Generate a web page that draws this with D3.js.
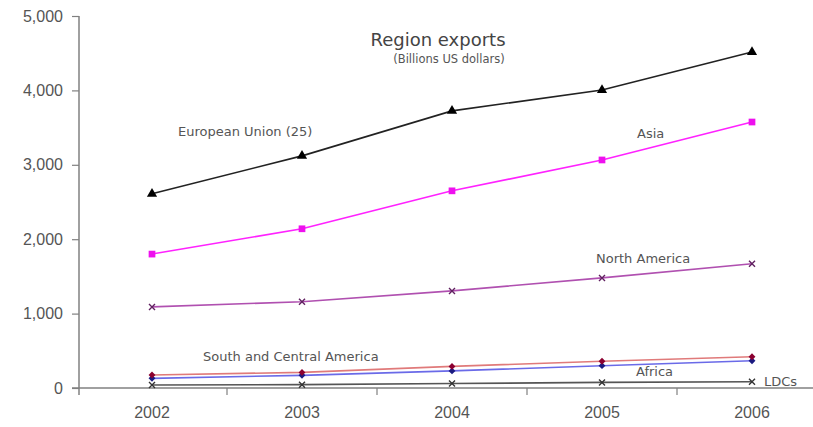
<!DOCTYPE html>
<html>
<head>
<meta charset="utf-8">
<script src="https://cdn.jsdelivr.net/npm/d3@7"></script>
<style>
  body { margin: 0; background: #fff; }
  svg { font-family: Arial, "Liberation Sans", sans-serif; }
  .lbl { font-family: "DejaVu Sans", Verdana, sans-serif; }
</style>
</head>
<body>
<svg id="chart" width="813" height="427"></svg>
<script>
const years = ['2002', '2003', '2004', '2005', '2006'];
const yTicks = [0, 1000, 2000, 3000, 4000, 5000];

const euValues = [2610, 3120, 3725, 4005, 4515];
const asiaValues = [1800, 2140, 2650, 3065, 3575];
const northAmericaValues = [1090, 1160, 1305, 1480, 1670];
const southCentralValues = [175, 210, 290, 360, 420];
const africaValues = [130, 170, 230, 300, 367];
const ldcValues = [40, 45, 60, 75, 85];

const svg = d3.select('#chart');

const x = d3.scaleBand().domain(years).range([77, 827]).padding(0);
const y = d3.scaleLinear().domain([0, 5000]).range([388, 16]);
const cx = (d) => x(d) + x.bandwidth() / 2;

const axisColor = '#808080';
const textColor = '#555';

// y axis
const yAxis = svg.append('g')
  .attr('transform', 'translate(79,0)')
  .call(d3.axisLeft(y).tickValues(yTicks).tickSize(7).tickPadding(9)
    .tickFormat(d3.format(',')).tickSizeOuter(0));
yAxis.select('.domain').remove();
yAxis.append('line')
  .attr('x1', 0).attr('x2', 0).attr('y1', 16).attr('y2', 395)
  .attr('stroke', axisColor).attr('stroke-width', 1.5);
yAxis.selectAll('.tick line').attr('stroke', axisColor).attr('stroke-width', 1.2);
yAxis.selectAll('.tick text').attr('fill', textColor).style('font-size', '16px');

// x axis
svg.append('line')
  .attr('x1', 72).attr('x2', 813).attr('y1', 388).attr('y2', 388)
  .attr('stroke', axisColor).attr('stroke-width', 1.5);
svg.append('g').selectAll('line')
  .data(years.slice(1))
  .enter()
  .append('line')
  .attr('x1', (d) => x(d)).attr('x2', (d) => x(d))
  .attr('y1', 388).attr('y2', 395)
  .attr('stroke', axisColor).attr('stroke-width', 1.2);
svg.append('g').selectAll('text')
  .data(years)
  .enter()
  .append('text')
  .attr('x', cx)
  .attr('y', 418)
  .attr('text-anchor', 'middle')
  .attr('fill', textColor)
  .style('font-size', '16px')
  .text((d) => d);

const series = [
  { name: 'ldc', values: ldcValues, line: '#555', mark: '#333', shape: 'x' },
  { name: 'africa', values: africaValues, line: '#6a6ae8', mark: '#1a1a80', shape: 'diamond' },
  { name: 'sca', values: southCentralValues, line: '#e07a7a', mark: '#8b0030', shape: 'diamond' },
  { name: 'na', values: northAmericaValues, line: '#b050b0', mark: '#602060', shape: 'x' },
  { name: 'asia', values: asiaValues, line: '#ff22ff', mark: '#ee10ee', shape: 'square' },
  { name: 'eu', values: euValues, line: '#222', mark: '#000', shape: 'triangle' },
];

const line = d3.line()
  .x((d, i) => cx(years[i]))
  .y((d) => y(d));

series.forEach((s) => {
  svg.append('path')
    .datum(s.values)
    .attr('fill', 'none')
    .attr('stroke', s.line)
    .attr('stroke-width', 1.6)
    .attr('d', line);

  const pts = svg.append('g').selectAll('g')
    .data(s.values)
    .enter()
    .append('g')
    .attr('transform', (d, i) => `translate(${cx(years[i])},${y(d)})`);

  if (s.shape === 'x') {
    pts.append('path')
      .attr('d', 'M-3,-3L3,3M-3,3L3,-3')
      .attr('stroke', s.mark).attr('stroke-width', 1.4);
  } else {
    const type = s.shape === 'diamond' ? d3.symbolDiamond2
      : s.shape === 'square' ? d3.symbolSquare : d3.symbolTriangle;
    pts.append('path')
      .attr('d', d3.symbol().type(type).size(s.shape === 'diamond' ? 30 : 45))
      .attr('fill', s.mark);
  }
});

// title
svg.append('text')
  .attr('class', 'lbl')
  .attr('x', 438).attr('y', 46)
  .attr('text-anchor', 'middle')
  .attr('fill', '#444')
  .style('font-size', '18px')
  .text('Region exports');
svg.append('text')
  .attr('class', 'lbl')
  .attr('x', 449).attr('y', 63)
  .attr('text-anchor', 'middle')
  .attr('fill', '#555')
  .style('font-size', '11.5px')
  .text('(Billions US dollars)');

// series labels
const labels = [
  { text: 'European Union (25)', x: 178, y: 136 },
  { text: 'Asia', x: 637, y: 138 },
  { text: 'North America', x: 596, y: 263 },
  { text: 'South and Central America', x: 203, y: 361 },
  { text: 'Africa', x: 636, y: 376 },
  { text: 'LDCs', x: 764, y: 386 },
];
svg.append('g').selectAll('text')
  .data(labels)
  .enter()
  .append('text')
  .attr('class', 'lbl')
  .attr('x', (d) => d.x)
  .attr('y', (d) => d.y)
  .attr('fill', textColor)
  .style('font-size', '13px')
  .text((d) => d.text);
</script>
</body>
</html>
